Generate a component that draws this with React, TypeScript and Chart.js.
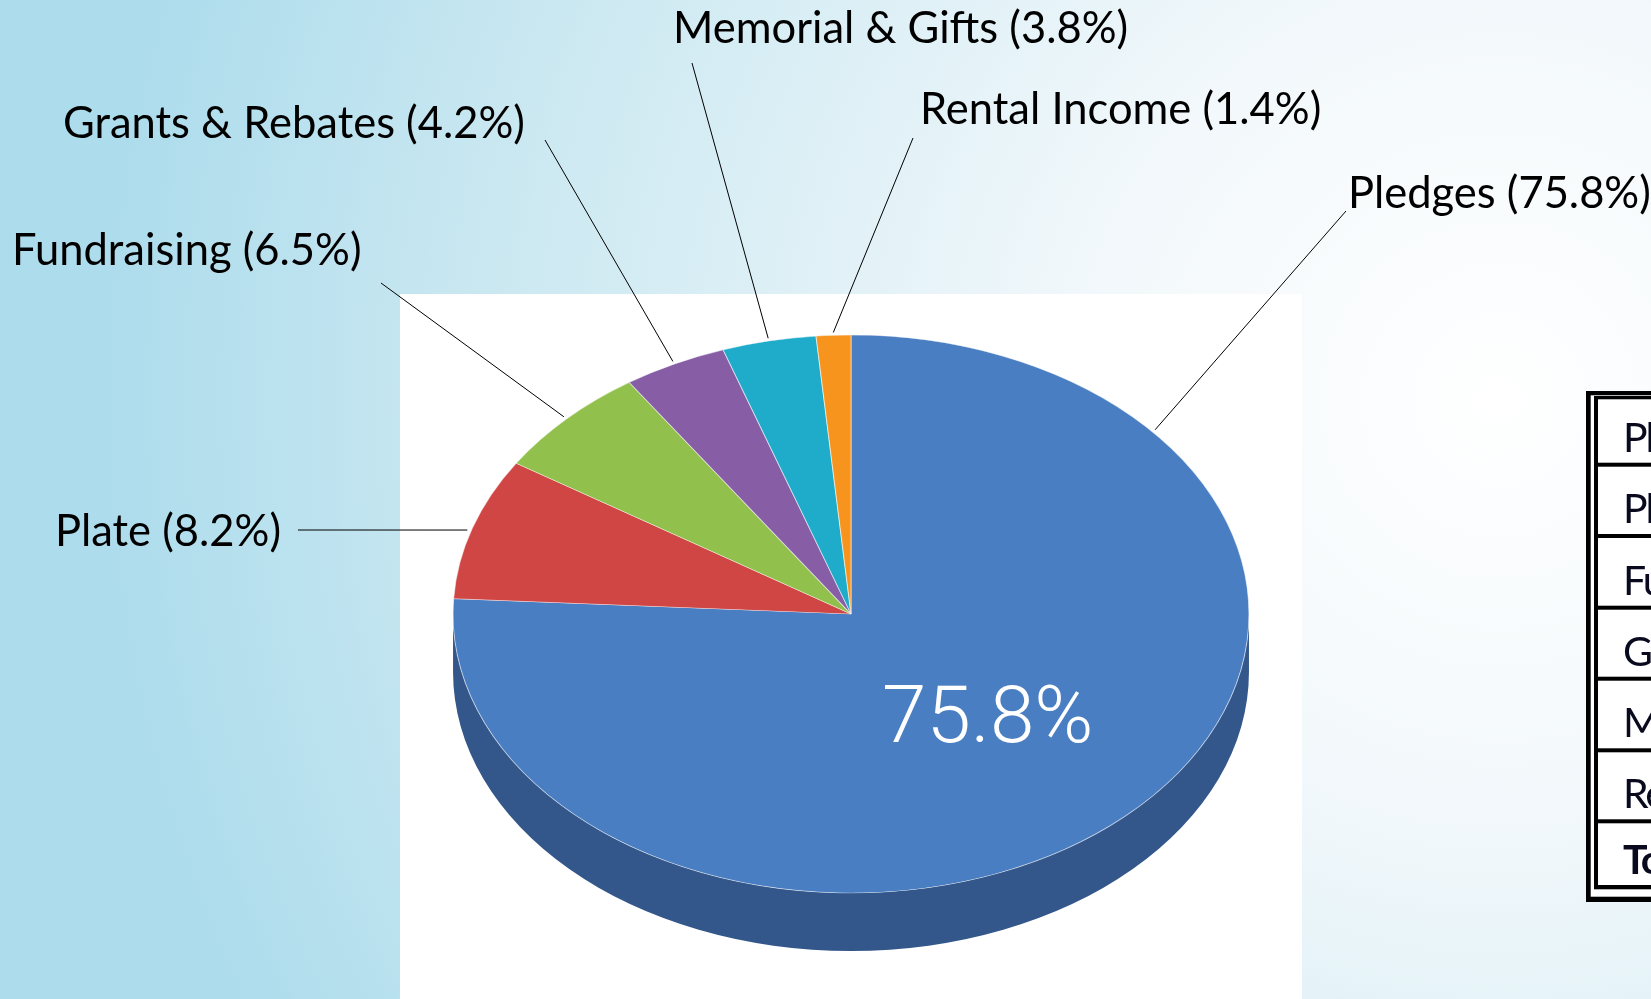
import React, { useEffect, useRef } from "react";
import { Chart, registerables } from "chart.js";

Chart.register(...registerables);

// ---- data ----
const categories = ["Pledges", "Plate", "Fundraising", "Grants & Rebates", "Memorial & Gifts", "Rental Income"];
const shares = [75.8, 8.2, 6.5, 4.2, 3.8, 1.4];
const tableRows = [...categories, "Total"];

// ---- styles ----
const topColors = ["#4a7ec2", "#cf4644", "#92c04c", "#875ea6", "#1eacca", "#f7941e"];
const sideColors = ["#33578a", "#93302f", "#678a35", "#5f4276", "#157a8f", "#b06915"];

// ---- layout of outside labels: text baseline-left, leader start, where on the slice it points ----
const labelLayout = [
  { x: 1348, y: 208, lx: 1346, ly: 211, frac: 0.18 },
  { x: 55, y: 546, lx: 298, ly: 530, frac: 0.48 },
  { x: 12, y: 265, lx: 381, ly: 283, frac: 0.5 },
  { x: 63, y: 138, lx: 545, ly: 140, frac: 0.5 },
  { x: 673, y: 43, lx: 692, ly: 63, frac: 0.5 },
  { x: 920, y: 124, lx: 913, ly: 138, frac: 0.5 },
];

const W = 1651;
const H = 999;
const SX = 1.035; // horizontal stretch of the pie disc
const SY = 0.7256; // vertical squash (tilt)
const DEPTH = 58;
const LABEL_FONT = "43.5px Lato";

const tableLeft = 1586;
const rowBottoms = [462.7, 534, 605.7, 676.7, 748.3, 819.3, 885];

const pie3d = {
  id: "pie3d",
  beforeDraw(chart: any) {
    const ctx = chart.ctx as CanvasRenderingContext2D;
    ctx.save();
    ctx.fillStyle = "#addcec";
    ctx.fillRect(0, 0, W, H);
    const g = ctx.createRadialGradient(1500, 400, 0, 1500, 400, 1400);
    g.addColorStop(0, "#ffffff");
    g.addColorStop(0.3, "#f2f8fb");
    g.addColorStop(0.7, "#cde9f2");
    g.addColorStop(1, "#addcec");
    ctx.fillStyle = g;
    ctx.fillRect(0, 0, W, H);
    // white chart panel
    ctx.fillStyle = "#ffffff";
    ctx.fillRect(400, 294, 902, H - 294);

    // table (clipped at page edge)
    ctx.fillStyle = "#000";
    ctx.fillRect(tableLeft, 391, W, 902 - 391);
    ctx.fillStyle = "#fff";
    ctx.fillRect(tableLeft + 4.7, 395.3, W, 896.7 - 395.3);
    ctx.fillStyle = "#000";
    ctx.fillRect(tableLeft + 8, 396, W, 889.3 - 396);
    ctx.fillStyle = "#fff";
    ctx.fillRect(tableLeft + 12, 399.3, W, 885 - 399.3);
    ctx.fillStyle = "#000";
    rowBottoms.slice(0, -1).forEach((b) => ctx.fillRect(tableLeft + 12, b, W, 4));
    ctx.textBaseline = "alphabetic";
    ctx.textAlign = "left";
    ctx.fillStyle = "#0a0a1e";
    (ctx as any).letterSpacing = "-2px";
    tableRows.forEach((t, i) => {
      ctx.font = (i === tableRows.length - 1 ? "bold " : "") + "41px Lato";
      ctx.fillText(t, tableLeft + 37, rowBottoms[i] - 11);
    });
    (ctx as any).letterSpacing = "0px";
    ctx.restore();
  },
  beforeDatasetsDraw(chart: any) {
    const ctx = chart.ctx as CanvasRenderingContext2D;
    const meta = chart.getDatasetMeta(0);
    ctx.save();
    meta.data.forEach((arc: any, i: number) => {
      const { x, y, startAngle, endAngle, outerRadius } = arc;
      const rx = outerRadius * SX;
      const ry = outerRadius * SY;
      for (let k = -1; k <= 1; k++) {
        const a = Math.max(startAngle, 2 * Math.PI * k);
        const b = Math.min(endAngle, 2 * Math.PI * k + Math.PI);
        if (b <= a) continue;
        ctx.beginPath();
        ctx.ellipse(x, y, rx, ry, 0, a, b);
        ctx.lineTo(x + rx * Math.cos(b), y + DEPTH + ry * Math.sin(b));
        ctx.ellipse(x, y + DEPTH, rx, ry, 0, b, a, true);
        ctx.closePath();
        ctx.fillStyle = sideColors[i];
        ctx.fill();
      }
    });
    ctx.restore();
    const { x, y } = meta.data[0];
    ctx.save();
    ctx.translate(x, y);
    ctx.scale(SX, SY);
    ctx.translate(-x, -y);
  },
  afterDatasetsDraw(chart: any) {
    const ctx = chart.ctx as CanvasRenderingContext2D;
    ctx.restore();
    const meta = chart.getDatasetMeta(0);
    ctx.save();
    // outside labels + leader lines
    ctx.font = LABEL_FONT;
    ctx.fillStyle = "#000";
    ctx.textAlign = "left";
    ctx.textBaseline = "alphabetic";
    ctx.strokeStyle = "#000";
    ctx.lineWidth = 1;
    categories.forEach((c, i) => {
      const L = labelLayout[i];
      ctx.fillText(`${c} (${shares[i].toFixed(1)}%)`, L.x, L.y);
      const arc = meta.data[i];
      const ang = arc.startAngle + (arc.endAngle - arc.startAngle) * L.frac;
      const ex = arc.x + arc.outerRadius * SX * 1.01 * Math.cos(ang);
      const ey = arc.y + arc.outerRadius * SY * 1.01 * Math.sin(ang);
      ctx.beginPath();
      ctx.moveTo(L.lx, L.ly);
      ctx.lineTo(ex, ey);
      ctx.stroke();
    });
    // in-slice percentage for large slices
    ctx.font = "300 80px Roboto";
    ctx.fillStyle = "#ffffff";
    ctx.textAlign = "center";
    meta.data.forEach((arc: any, i: number) => {
      if (shares[i] < 10) return;
      const p = arc.getCenterPoint();
      const px = arc.x + (p.x - arc.x) * SX;
      const py = arc.y + (p.y - arc.y) * SY;
      ctx.fillText(`${shares[i].toFixed(1)}%`, px, py + 27);
    });
    ctx.restore();
  },
};

export default function App() {
  const ref = useRef<HTMLCanvasElement>(null);
  useEffect(() => {
    if (!ref.current) return;
    const chart = new Chart(ref.current, {
      type: "pie",
      data: {
        labels: categories,
        datasets: [
          {
            data: shares,
            backgroundColor: topColors,
            borderColor: "rgba(255,255,255,0.55)",
            borderWidth: 1,
            hoverOffset: 0,
            clip: false as any,
          } as any,
        ],
      },
      options: {
        responsive: false,
        animation: false,
        devicePixelRatio: 1,
        events: [],
        layout: { padding: { left: 466, right: 415, top: 229, bottom: 0 } },
        plugins: { legend: { display: false }, tooltip: { enabled: false } },
      },
      plugins: [pie3d],
    });
    return () => chart.destroy();
  }, []);
  return (
    <div style={{ position: "fixed", left: 0, top: 0, width: W, height: H, overflow: "hidden" }}>
      <canvas ref={ref} width={W} height={H} style={{ display: "block" }} />
    </div>
  );
}
